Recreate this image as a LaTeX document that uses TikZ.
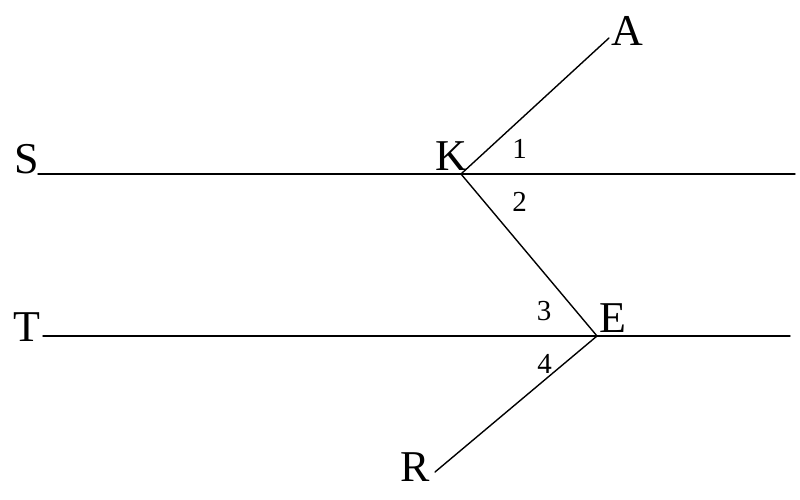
\documentclass[tikz,border=0pt]{standalone}
\usepackage{fontspec}
\setmainfont{Liberation Serif}
\begin{document}
\begin{tikzpicture}[x=1pt,y=-1pt,
  seg/.style={line width=1.4pt,line cap=round,line join=round},
  letter/.style={inner sep=0pt,anchor=base,font=\fontsize{44}{44}\selectfont},
  num/.style={inner sep=0pt,anchor=base,font=\fontsize{29}{29}\selectfont}]
\useasboundingbox (0,0) rectangle (800,500);
\coordinate (K) at (461,174);
\coordinate (E) at (597,336);
\coordinate (A) at (609,38);
\coordinate (R) at (435,472);
\coordinate (S1) at (38,174);
\coordinate (S2) at (795,174);
\coordinate (T1) at (43,336);
\coordinate (T2) at (790,336);
\draw[seg] (S1) -- (S2);
\draw[seg] (T1) -- (T2);
\draw[seg] (A) -- (K) -- (E) -- (R);
\node[letter] (lS) at (26.5,173) {S};
\node[letter] (lK) at (451,170) {K};
\node[letter] (lA) at (627,46) {A};
\node[letter] (lE) at (613,332) {E};
\node[letter] (lT) at (26.5,341) {T};
\node[letter] (lR) at (415,481) {R};
\node[num] (n1) at (519.5,158) {1};
\node[num] (n2) at (519.5,211) {2};
\node[num] (n3) at (544,320) {3};
\node[num] (n4) at (544.5,373) {4};
\end{tikzpicture}
\end{document}
